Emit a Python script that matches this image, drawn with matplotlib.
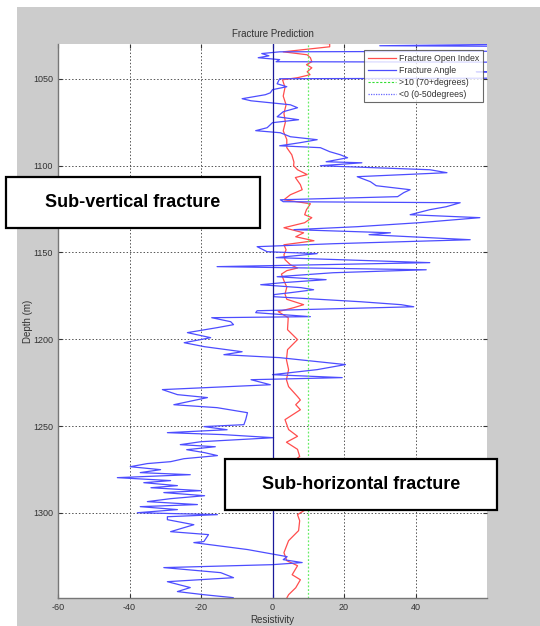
import matplotlib

matplotlib.use("Agg")
import matplotlib.pyplot as plt
from matplotlib.lines import Line2D
from matplotlib.patches import Rectangle

plt.rcParams["font.family"] = ["Liberation Sans", "DejaVu Sans"]
plt.rcParams["axes.unicode_minus"] = False

# Fracture Angle curve (blue): depth (m), value
angle_depth = [
    1029.5, 1031.0, 1031.6, 1034.0, 1034.5, 1035.5, 1036.8, 1037.9, 1039.0, 1040.2,
    1040.6, 1045.5, 1046.0, 1046.5, 1049.5, 1050.0, 1052.9, 1054.6, 1056.3, 1058.1,
    1059.2, 1061.5, 1062.7, 1065.0, 1066.7, 1069.0, 1071.9, 1073.6, 1075.3, 1078.2,
    1079.9, 1081.1, 1083.4, 1085.1, 1086.8, 1088.6, 1089.7, 1092.0, 1093.8, 1095.5,
    1097.8, 1098.4, 1100.1, 1102.4, 1104.1, 1106.4, 1109.3, 1111.6, 1113.9, 1115.6,
    1117.9, 1119.7, 1120.8, 1121.4, 1123.7, 1125.4, 1128.3, 1130.0, 1132.9, 1135.2,
    1136.9, 1138.7, 1139.8, 1142.7, 1145.0, 1146.7, 1149.6, 1150.7, 1153.0, 1155.9,
    1158.2, 1160.0, 1161.7, 1164.0, 1165.7, 1167.4, 1168.6, 1170.3, 1171.5, 1173.2,
    1174.3, 1175.5, 1178.4, 1180.1, 1181.3, 1183.6, 1184.7, 1187.0, 1187.6, 1189.9,
    1191.6, 1193.3, 1196.2, 1199.1, 1202.0, 1204.3, 1207.2, 1208.9, 1210.6, 1214.6,
    1217.5, 1220.4, 1222.1, 1223.3, 1226.2, 1229.0, 1231.9, 1233.6, 1237.7, 1239.4,
    1242.3, 1246.3, 1249.2, 1250.3, 1252.1, 1253.8, 1254.9, 1256.7, 1259.0, 1260.7,
    1261.9, 1263.6, 1265.3, 1267.0, 1268.8, 1270.5, 1271.6, 1273.4, 1275.1, 1276.8,
    1278.0, 1279.7, 1281.4, 1282.6, 1284.3, 1285.5, 1287.2, 1288.3, 1290.1, 1291.8,
    1293.5, 1295.2, 1296.4, 1298.1, 1299.9, 1301.0, 1302.2, 1303.9, 1306.8, 1310.8,
    1312.5, 1316.5, 1317.1, 1321.1, 1325.2, 1326.9, 1328.6, 1329.8, 1331.5, 1334.4,
    1337.3, 1339.6, 1343.0, 1345.3, 1347.1, 1348.8,
]
angle_value = [
    95, 30, 95, 95, 2, -3, -1, -4, 2, 1,
    95, 95, 57, 95, 95, 2, 1.3, 4, 0, -0.6,
    -2, -8.5, -6, 5, 7, 3, 1.3, 7.3, 0, -1.5,
    -4.7, 2.2, 5, 12.5, 7.8, 2, 13.4, 16, 19, 21,
    15, 25, 13.4, 44, 48.8, 23.7, 27.4, 29, 38.5, 36.7,
    35, 2.2, 3, 52.5, 48.6, 44, 38.5, 58, 41, 23.7,
    6, 33, 27, 55.3, 17, -4.3, -1.5, 12.5, 1, 44,
    -15.5, 43, 17, 1.3, 15, 3, -3.3, 8, 11.5, 5,
    0.4, 0.3, 24.6, 36, 39.5, -4.3, -4.7, 10.6, -17, -11.7,
    -10.9, -15.4, -23.8, -17.3, -24.7, -19, -8.5, -13.6, 2, 20.4,
    12.5, 0, 19.5, -6, -0.6, -30.8, -26.6, -18.2, -27.6, -15.5,
    -7, -7.5, -8, -19.2, -12.7, -29.4, -14, 0.3, -20, -25.8,
    -16, -24, -19, -15.4, -24.8, -28.5, -35, -39.8, -31.3, -37,
    -23, -43.4, -28.5, -36, -26.6, -34, -20, -30.4, -19, -28.5,
    -35, -21, -37, -26.6, -37.8, -15.4, -29.4, -29.4, -22, -28.5,
    -17.9, -19.2, -22, -7, 4.1, 3, 8.3, 0, -30.4, -14.5,
    -10.9, -29.4, -23, -26.6, -19.2, -11,
]

# Fracture Open Index curve (red)
index_depth = [
    1029.3, 1029.8, 1031.6, 1034.5, 1036.2, 1037.9, 1040.2, 1041.9, 1043.7, 1046.0,
    1047.7, 1049.4, 1050.6, 1055.0, 1060.0, 1065.0, 1070.0, 1075.0, 1080.0, 1085.0,
    1089.7, 1093.8, 1098.0, 1100.1, 1102.4, 1105.2, 1106.9, 1111.0, 1113.9, 1116.8,
    1119.7, 1122.0, 1125.4, 1128.3, 1130.0, 1132.9, 1135.8, 1138.7, 1141.0, 1143.3,
    1145.6, 1148.5, 1151.4, 1154.2, 1157.1, 1159.0, 1160.5, 1162.5, 1166.3, 1170.0,
    1174.0, 1177.0, 1180.1, 1181.8, 1184.1, 1187.6, 1194.5, 1200.2, 1206.0, 1211.8,
    1217.5, 1223.3, 1227.3, 1233.0, 1235.0, 1237.7, 1240.6, 1246.3, 1252.0, 1255.9,
    1259.3, 1263.4, 1267.5, 1270.0, 1280.0, 1290.0, 1298.2, 1301.0, 1304.5, 1310.2,
    1316.0, 1322.9, 1327.5, 1330.4, 1335.6, 1338.5, 1343.1, 1347.1, 1349.0,
]
index_value = [
    7, 16, 16, 3, 9.7, 10.6, 11, 9.5, 11, 9.7,
    10.5, 7, 2.8, 3.5, 3, 3.8, 3.2, 3.6, 3, 4,
    4, 5.4, 6, 5.9, 7, 9.7, 6.4, 7.8, 8.3, 5,
    3.2, 10.6, 9.5, 9, 11, 9, 3.2, 8.7, 6.5, 11.6,
    3.2, 3.8, 3.2, 3.5, 5, 7, 4, 2.5, 3.2, 4,
    3.5, 4, 8.7, 6, 1.6, 4.4, 4.2, 7, 4.2, 3.9,
    4.5, 3.9, 4.5, 7, 7.8, 6.5, 7.8, 3.5, 4.5, 7,
    3.9, 7, 7.6, 6, 5, 6, 9.2, 7, 7.6, 7.3,
    4.5, 3.2, 4, 7, 5.5, 7.8, 6.5, 4.5, 4,
]

upper_limit = 10
lower_limit = 0
x_ticks = [-60, -40, -20, 0, 20, 40]
y_ticks = [1050, 1100, 1150, 1200, 1250, 1300]
legend_labels = ["Fracture Open Index", "Fracture Angle", ">10 (70+degrees)", "<0 (0-50degrees)"]


def main() -> None:
    fig = plt.figure(figsize=(5.4, 6.26), dpi=100, facecolor="white")
    fig.patches.append(Rectangle((17 / 540, 0), 1 - 17 / 540, 1 - 7 / 626,
                                 transform=fig.transFigure, facecolor="#cccccc",
                                 edgecolor="none", zorder=-10))
    ax = fig.add_axes([58 / 540, 1 - 598 / 626, 429 / 540, 554 / 626])
    ax.set_facecolor("white")

    ax.plot(index_value, index_depth, color="#ff4d4d", linewidth=0.9)
    ax.plot(angle_value, angle_depth, color="#4d4dff", linewidth=0.9)
    ax.axvline(upper_limit, color="#66ee66", linewidth=0.9, linestyle=(0, (1.5, 1.5)))
    ax.axvline(lower_limit, color="#1a1a99", linewidth=0.9)

    ax.set_xlim(-60, 60)
    ax.set_ylim(1349, 1030)
    ax.set_xticks(x_ticks)
    ax.set_yticks(y_ticks)
    ax.grid(True, color="#555555", linestyle=(0, (1.5, 2)), linewidth=0.7)
    ax.set_axisbelow(True)
    ax.tick_params(direction="in", length=3, labelsize=6.5, colors="#333333",
                   top=True, right=True)
    for side in ["top", "right"]:
        ax.spines[side].set_visible(False)
    for side in ["left", "bottom"]:
        ax.spines[side].set_color("#777777")
        ax.spines[side].set_linewidth(1.0)

    ax.set_title("Fracture Prediction", fontsize=7, color="#333333", pad=5)
    ax.set_xlabel("Resistivity", fontsize=7, color="#333333", labelpad=2)
    ax.set_ylabel("Depth (m)", fontsize=7, color="#333333", labelpad=0)

    handles = [
        Line2D([], [], color="#ff4d4d", linewidth=0.9),
        Line2D([], [], color="#4d4dff", linewidth=0.9),
        Line2D([], [], color="#33dd33", linewidth=0.8, linestyle=(0, (2, 1.5))),
        Line2D([], [], color="#6666ff", linewidth=0.9, linestyle=(0, (1, 1))),
    ]
    leg = ax.legend(handles, legend_labels, loc="upper right", bbox_to_anchor=(0.991, 0.989),
                    borderaxespad=0, fontsize=6.3, frameon=True, fancybox=False,
                    handlelength=3.2, labelspacing=0.35, borderpad=0.4, handletextpad=0.4)
    leg.get_frame().set_edgecolor("#444444")
    leg.get_frame().set_linewidth(0.8)
    for t in leg.get_texts():
        t.set_color("#333333")

    boxes = [
        ("Sub-vertical fracture", 6, 177, 254, 51),
        ("Sub-horizontal fracture", 225, 459, 272, 51),
    ]
    for text, px, py, w, h in boxes:
        x0 = px / 540
        y0 = 1 - (py + h) / 626
        fig.patches.append(Rectangle((x0, y0), w / 540, h / 626, transform=fig.transFigure,
                                     facecolor="white", edgecolor="black", linewidth=1.6,
                                     zorder=5))
        fig.text(x0 + w / 540 / 2, y0 + h / 626 / 2, text, ha="center", va="center",
                 fontsize=13, fontweight="bold", color="black", zorder=6)

    fig.savefig("out.png", dpi=100)


if __name__ == "__main__":
    main()
